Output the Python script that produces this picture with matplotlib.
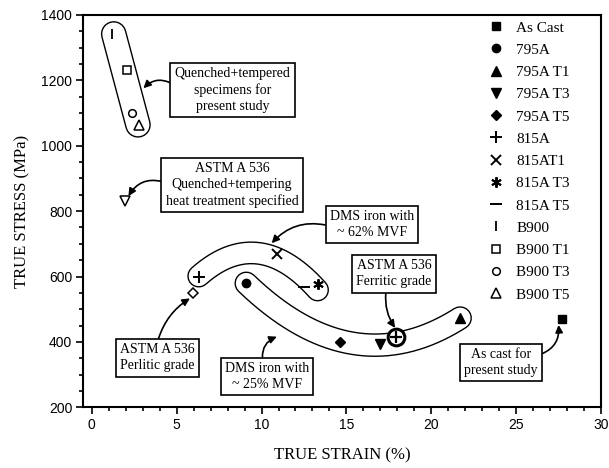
import numpy as np
import matplotlib
matplotlib.use("Agg")
import matplotlib.pyplot as plt
from matplotlib.ticker import MultipleLocator

# ---- data: true strain (%) and true stress (MPa) per specimen ----
categories = ["As Cast", "795A", "795A T1", "795A T3", "795A T5",
              "815A", "815AT1", "815A T3", "815A T5",
              "B900", "B900 T1", "B900 T3", "B900 T5"]
strain = [27.7, 9.1, 21.7, 17.0, 14.6, 6.3, 10.9, 13.3, 12.5, 1.2, 2.05, 2.35, 2.8]
stress = [470, 580, 472, 395, 400, 600, 670, 578, 568, 1342, 1232, 1101, 1064]

# ASTM A 536 reference grades
astm_names = ["Quenched+tempering", "Perlitic", "Ferritic"]
astm_strain = [1.96, 5.98, 17.92]
astm_stress = [830, 551, 416]

# specimen families enclosed by outline bands
group_b900 = ["B900", "B900 T1", "B900 T3", "B900 T5"]
group_815 = ["815A", "815AT1", "815A T3", "815A T5"]
group_795 = ["795A", "795A T1", "795A T3", "795A T5"]

SERIF = "Liberation Serif"
SANS = "Liberation Sans"

styles = {
    "As Cast":  dict(marker="s", ms=6, mfc="black"),
    "795A":     dict(marker="o", ms=6, mfc="black"),
    "795A T1":  dict(marker="^", ms=7.5, mfc="black"),
    "795A T3":  dict(marker="v", ms=7.5, mfc="black"),
    "795A T5":  dict(marker="D", ms=5.5, mfc="black"),
    "815A":     dict(marker="+", ms=8, mew=1.4),
    "815AT1":   dict(marker="x", ms=6.5, mew=1.4),
    "815A T3":  dict(marker=(6, 2, 0), ms=7.5, mew=1.4),
    "815A T5":  dict(marker="_", ms=8, mew=1.4),
    "B900":     dict(marker="|", ms=7, mew=1.3),
    "B900 T1":  dict(marker="s", ms=5.5, mfc="white", mew=1.1),
    "B900 T3":  dict(marker="o", ms=5.5, mfc="white", mew=1.1),
    "B900 T5":  dict(marker="^", ms=7.5, mfc="white", mew=1.1),
}

fig = plt.figure(figsize=(6.09, 4.68), dpi=100)
ax = fig.add_axes([0.1368, 0.1297, 0.8501, 0.8383])
ax.set_xlim(-0.5, 30)
ax.set_ylim(200, 1400)

idx = {c: i for i, c in enumerate(categories)}


def draw_band(names, width_pt, deg, along_x=True):
    xs = np.array([strain[idx[n]] for n in names])
    ys = np.array([stress[idx[n]] for n in names])
    if along_x:
        coef = np.polyfit(xs, ys, deg)
        t = np.linspace(xs.min(), xs.max(), 300)
        px, py = t, np.polyval(coef, t)
    else:
        coef = np.polyfit(ys, xs, deg)
        t = np.linspace(ys.min(), ys.max(), 300)
        px, py = np.polyval(coef, t), t
    ax.plot(px, py, color="black", lw=width_pt + 2.0,
            solid_capstyle="round", solid_joinstyle="round", zorder=1)
    ax.plot(px, py, color="white", lw=width_pt,
            solid_capstyle="round", solid_joinstyle="round", zorder=1.1)


draw_band(group_b900, 16.5, 1, along_x=False)
draw_band(group_815, 14.5, 2)
draw_band(group_795, 15.0, 2)

for c, x, y in zip(categories, strain, stress):
    st = dict(styles[c])
    mfc = st.pop("mfc", "black")
    ax.plot([x], [y], linestyle="none", color="black", mec="black",
            mfc=mfc, label=c, zorder=3, **st)

# ASTM reference points
ax.plot([astm_strain[0]], [astm_stress[0]], linestyle="none", marker="v",
        ms=7.5, mfc="white", mec="black", mew=1.1, zorder=3)
ax.plot([astm_strain[1]], [astm_stress[1]], linestyle="none", marker="D",
        ms=5.5, mfc="white", mec="black", mew=1.1, zorder=3)
ax.plot([astm_strain[2]], [astm_stress[2]], linestyle="none", marker="o",
        ms=12, mfc="white", mec="black", mew=2.2, zorder=3)
ax.plot([astm_strain[2]], [astm_stress[2]], linestyle="none", marker="+",
        ms=8, mec="black", mew=1.6, zorder=3.1)

# callout boxes
box = dict(boxstyle="square,pad=0.3", fc="white", ec="black", lw=1.2)


def callout(text, xy, xytext, rad, relpos=(0.5, 0.5)):
    ax.annotate(text, xy=xy, xytext=xytext, ha="center", va="center",
                fontsize=10, family=SERIF, linespacing=1.3, bbox=box,
                zorder=4,
                arrowprops=dict(arrowstyle="-|>", color="black", lw=1.2,
                                mutation_scale=11, relpos=relpos,
                                connectionstyle=f"arc3,rad={rad}",
                                shrinkA=0, shrinkB=0))


callout("Quenched+tempered\nspecimens for\npresent study",
        (3.04, 1176), (8.29, 1171), 0.4, relpos=(0.0, 0.6))
callout("ASTM A 536\nQuenched+tempering\nheat treatment specified",
        (astm_strain[0] + 0.2, astm_stress[0] + 16), (8.26, 880), 0.4,
        relpos=(0.0, 0.55))
callout("DMS iron with\n~ 62% MVF", (10.6, 702), (16.5, 759), 0.3,
        relpos=(0.0, 0.45))
callout("ASTM A 536\nFerritic grade",
        (astm_strain[2] - 0.05, astm_stress[2] + 27), (17.8, 608), 0.2,
        relpos=(0.4, 0.0))
callout("As cast for\npresent study",
        (strain[0] - 0.2, stress[0] - 18), (24.1, 337), 0.4,
        relpos=(1.0, 0.75))
callout("ASTM A 536\nPerlitic grade",
        (astm_strain[1] - 0.2, astm_stress[1] - 18), (3.85, 351), -0.2,
        relpos=(0.5, 1.0))
callout("DMS iron with\n~ 25% MVF", (10.9, 416), (10.33, 294), -0.4,
        relpos=(0.45, 1.0))

# axes styling
for s in ax.spines.values():
    s.set_linewidth(1.5)
ax.xaxis.set_major_locator(MultipleLocator(5))
ax.xaxis.set_minor_locator(MultipleLocator(1))
ax.yaxis.set_major_locator(MultipleLocator(200))
ax.yaxis.set_minor_locator(MultipleLocator(50))
ax.tick_params(which="both", direction="out", width=1.2, top=False, right=False)
ax.tick_params(which="major", length=5, labelsize=10, pad=3)
ax.tick_params(which="minor", length=3)
for lab in ax.get_xticklabels() + ax.get_yticklabels():
    lab.set_family(SANS)

ax.set_xlabel("TRUE STRAIN (%)", family=SERIF, fontsize=12, labelpad=11)
ax.set_ylabel("TRUE STRESS (MPa)", family=SERIF, fontsize=12, labelpad=8)

ax.legend(loc="upper left", bbox_to_anchor=(0.78, 0.985), frameon=False,
          numpoints=1, handlelength=1.2, handletextpad=0.7, labelspacing=0.56,
          borderpad=0, borderaxespad=0, prop=dict(family=SERIF, size=11))

fig.savefig("out.png", dpi=100)
